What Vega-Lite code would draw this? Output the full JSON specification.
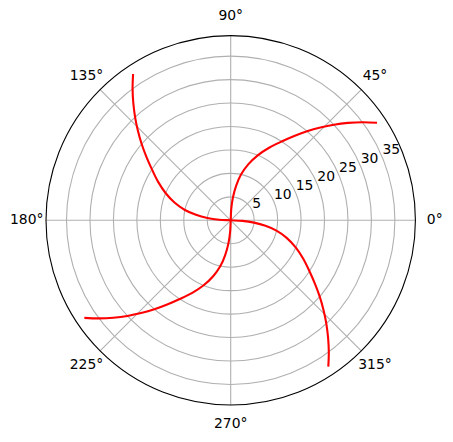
{
  "$schema": "https://vega.github.io/schema/vega-lite/v6.json",
  "width": 369.4,
  "height": 369.4,
  "autosize": {"type": "none"},
  "padding": {"left": 46, "top": 35.6, "right": 37.6, "bottom": 37},
  "background": "white",
  "config": {"view": {"stroke": null}, "font": "DejaVu Sans"},
  "datasets": {
    "rings": [{"r": 5}, {"r": 10}, {"r": 15}, {"r": 20}, {"r": 25}, {"r": 30}, {"r": 35}],
    "outer": [{"r": 39.375}],
    "spokes": [
      {"a": 0, "r": 0}, {"a": 0, "r": 39.375}, {"a": 45, "r": 0}, {"a": 45, "r": 39.375},
      {"a": 90, "r": 0}, {"a": 90, "r": 39.375}, {"a": 135, "r": 0}, {"a": 135, "r": 39.375},
      {"a": 180, "r": 0}, {"a": 180, "r": 39.375}, {"a": 225, "r": 0}, {"a": 225, "r": 39.375},
      {"a": 270, "r": 0}, {"a": 270, "r": 39.375}, {"a": 315, "r": 0}, {"a": 315, "r": 39.375}
    ],
    "rlabels": [
      {"r": 5, "a": 22.5, "label": "5"}, {"r": 10, "a": 22.5, "label": "10"}, {"r": 15, "a": 22.5, "label": "15"},
      {"r": 20, "a": 22.5, "label": "20"}, {"r": 25, "a": 22.5, "label": "25"}, {"r": 30, "a": 22.5, "label": "30"},
      {"r": 35, "a": 22.5, "label": "35"}
    ],
    "alabels": [
      {"a": 0, "r": 43.49, "label": "0°"}, {"a": 45, "r": 43.49, "label": "45°"},
      {"a": 90, "r": 43.49, "label": "90°"}, {"a": 135, "r": 43.49, "label": "135°"},
      {"a": 180, "r": 43.49, "label": "180°"}, {"a": 225, "r": 43.49, "label": "225°"},
      {"a": 270, "r": 43.49, "label": "270°"}, {"a": 315, "r": 43.49, "label": "315°"}
    ],
    "curve": [
      {"c": "A", "o": -15, "r": 37.5, "t": 213.7}, {"c": "A", "o": -14, "r": 35, "t": 216.7},
      {"c": "A", "o": -13, "r": 32.5, "t": 219.7}, {"c": "A", "o": -12, "r": 30, "t": 222.8},
      {"c": "A", "o": -11, "r": 27.5, "t": 226}, {"c": "A", "o": -10, "r": 25, "t": 229.4},
      {"c": "A", "o": -9, "r": 22.5, "t": 233}, {"c": "A", "o": -8, "r": 20, "t": 237.1},
      {"c": "A", "o": -7, "r": 17.5, "t": 242.1}, {"c": "A", "o": -6, "r": 15, "t": 247.4},
      {"c": "A", "o": -5, "r": 12.5, "t": 252.6}, {"c": "A", "o": -4, "r": 10, "t": 257.3},
      {"c": "A", "o": -3, "r": 7.5, "t": 261}, {"c": "A", "o": -2, "r": 5, "t": 264.3},
      {"c": "A", "o": -1, "r": 2.5, "t": 267.2}, {"c": "A", "o": 0, "r": 0, "t": 90},
      {"c": "A", "o": 1, "r": 2.5, "t": 87.2}, {"c": "A", "o": 2, "r": 5, "t": 84.3},
      {"c": "A", "o": 3, "r": 7.5, "t": 81}, {"c": "A", "o": 4, "r": 10, "t": 77.3},
      {"c": "A", "o": 5, "r": 12.5, "t": 72.6}, {"c": "A", "o": 6, "r": 15, "t": 67.4},
      {"c": "A", "o": 7, "r": 17.5, "t": 62.1}, {"c": "A", "o": 8, "r": 20, "t": 57.1},
      {"c": "A", "o": 9, "r": 22.5, "t": 53}, {"c": "A", "o": 10, "r": 25, "t": 49.4},
      {"c": "A", "o": 11, "r": 27.5, "t": 46}, {"c": "A", "o": 12, "r": 30, "t": 42.8},
      {"c": "A", "o": 13, "r": 32.5, "t": 39.7}, {"c": "A", "o": 14, "r": 35, "t": 36.7},
      {"c": "A", "o": 15, "r": 37.5, "t": 33.7},
      {"c": "B", "o": -15, "r": 37.5, "t": 123.7}, {"c": "B", "o": -14, "r": 35, "t": 126.7},
      {"c": "B", "o": -13, "r": 32.5, "t": 129.7}, {"c": "B", "o": -12, "r": 30, "t": 132.8},
      {"c": "B", "o": -11, "r": 27.5, "t": 136}, {"c": "B", "o": -10, "r": 25, "t": 139.4},
      {"c": "B", "o": -9, "r": 22.5, "t": 143}, {"c": "B", "o": -8, "r": 20, "t": 147.1},
      {"c": "B", "o": -7, "r": 17.5, "t": 152.1}, {"c": "B", "o": -6, "r": 15, "t": 157.4},
      {"c": "B", "o": -5, "r": 12.5, "t": 162.6}, {"c": "B", "o": -4, "r": 10, "t": 167.3},
      {"c": "B", "o": -3, "r": 7.5, "t": 171}, {"c": "B", "o": -2, "r": 5, "t": 174.3},
      {"c": "B", "o": -1, "r": 2.5, "t": 177.2}, {"c": "B", "o": 0, "r": 0, "t": 0},
      {"c": "B", "o": 1, "r": 2.5, "t": -2.8}, {"c": "B", "o": 2, "r": 5, "t": -5.7},
      {"c": "B", "o": 3, "r": 7.5, "t": -9}, {"c": "B", "o": 4, "r": 10, "t": -12.7},
      {"c": "B", "o": 5, "r": 12.5, "t": -17.4}, {"c": "B", "o": 6, "r": 15, "t": -22.6},
      {"c": "B", "o": 7, "r": 17.5, "t": -27.9}, {"c": "B", "o": 8, "r": 20, "t": -32.9},
      {"c": "B", "o": 9, "r": 22.5, "t": -37}, {"c": "B", "o": 10, "r": 25, "t": -40.6},
      {"c": "B", "o": 11, "r": 27.5, "t": -44}, {"c": "B", "o": 12, "r": 30, "t": -47.2},
      {"c": "B", "o": 13, "r": 32.5, "t": -50.3}, {"c": "B", "o": 14, "r": 35, "t": -53.3},
      {"c": "B", "o": 15, "r": 37.5, "t": -56.3}
    ]
  },
  "layer": [
    {
      "data": {"name": "rings"},
      "transform": [{"calculate": "0", "as": "cx"}],
      "mark": {"type": "point", "shape": "circle", "filled": false, "color": "#b0b0b0", "strokeWidth": 1.1, "opacity": 1},
      "encoding": {
        "x": {"field": "cx", "type": "quantitative", "scale": {"domain": [-39.375, 39.375], "nice": false, "zero": false}, "axis": null},
        "y": {"field": "cx", "type": "quantitative", "scale": {"domain": [-39.375, 39.375], "nice": false, "zero": false}, "axis": null},
        "size": {"field": "r", "type": "quantitative", "legend": null, "scale": {"type": "pow", "exponent": 2, "domain": [0, 39.375], "range": [0, 136456.4], "zero": true}}
      }
    },
    {
      "data": {"name": "spokes"},
      "transform": [
        {"calculate": "datum.r*cos(datum.a*PI/180)", "as": "x"},
        {"calculate": "datum.r*sin(datum.a*PI/180)", "as": "y"}
      ],
      "mark": {"type": "line", "color": "#b0b0b0", "strokeWidth": 1.1},
      "encoding": {
        "x": {"field": "x", "type": "quantitative"},
        "y": {"field": "y", "type": "quantitative"},
        "detail": {"field": "a", "type": "nominal"},
        "order": {"field": "r", "type": "quantitative"}
      }
    },
    {
      "data": {"name": "outer"},
      "transform": [{"calculate": "0", "as": "cx"}],
      "mark": {"type": "point", "shape": "circle", "filled": false, "color": "#000000", "strokeWidth": 1.1, "opacity": 1},
      "encoding": {
        "x": {"field": "cx", "type": "quantitative"},
        "y": {"field": "cx", "type": "quantitative"},
        "size": {"field": "r", "type": "quantitative", "legend": null}
      }
    },
    {
      "data": {"name": "curve"},
      "transform": [
        {"calculate": "datum.r*cos(datum.t*PI/180)", "as": "x"},
        {"calculate": "datum.r*sin(datum.t*PI/180)", "as": "y"}
      ],
      "mark": {"type": "line", "color": "#ff0000", "strokeWidth": 2.1, "interpolate": "catmull-rom"},
      "encoding": {
        "x": {"field": "x", "type": "quantitative"},
        "y": {"field": "y", "type": "quantitative"},
        "detail": {"field": "c", "type": "nominal"},
        "order": {"field": "o", "type": "quantitative"}
      }
    },
    {
      "data": {"name": "rlabels"},
      "transform": [
        {"calculate": "datum.r*cos(datum.a*PI/180)", "as": "x"},
        {"calculate": "datum.r*sin(datum.a*PI/180)", "as": "y"}
      ],
      "mark": {"type": "text", "align": "left", "baseline": "bottom", "fontSize": 13.9, "color": "#000000"},
      "encoding": {
        "x": {"field": "x", "type": "quantitative"},
        "y": {"field": "y", "type": "quantitative"},
        "text": {"field": "label", "type": "nominal"}
      }
    },
    {
      "data": {"name": "alabels"},
      "transform": [
        {"calculate": "datum.r*cos(datum.a*PI/180)", "as": "x"},
        {"calculate": "datum.r*sin(datum.a*PI/180)", "as": "y"}
      ],
      "mark": {"type": "text", "align": "center", "baseline": "middle", "fontSize": 13.9, "color": "#000000"},
      "encoding": {
        "x": {"field": "x", "type": "quantitative"},
        "y": {"field": "y", "type": "quantitative"},
        "text": {"field": "label", "type": "nominal"}
      }
    }
  ]
}
